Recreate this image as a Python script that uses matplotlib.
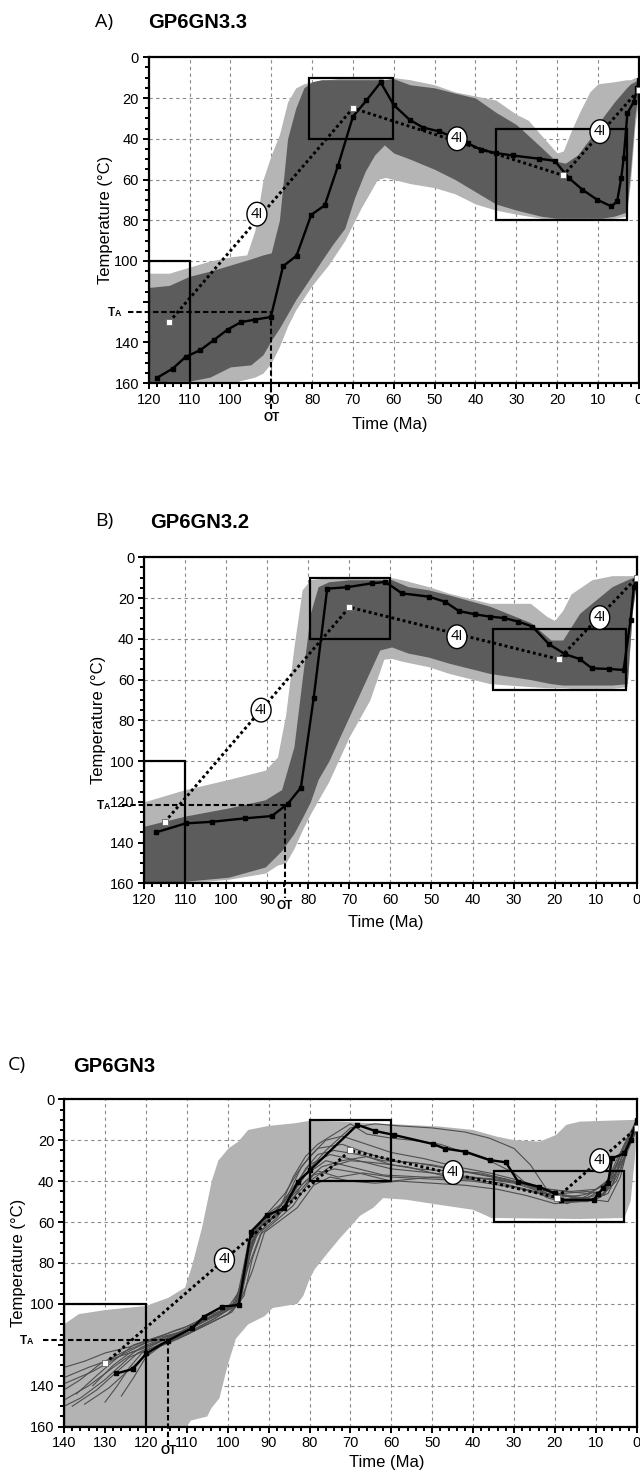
import matplotlib
matplotlib.use('Agg')
import matplotlib.pyplot as plt
from matplotlib.patches import Rectangle
from matplotlib.ticker import MultipleLocator

# ---------------- panel A : GP6GN3.3 ----------------
a_light_t = [120, 115, 110, 105, 100, 96, 94, 92, 90, 88, 86, 84, 82, 80, 76, 72, 68, 64, 62, 60,
             56, 50, 45, 40, 35, 30, 27, 24, 20, 18.5, 16.5, 14.5, 12, 10, 6, 3, 2, 1, 0]
a_light_top = [106, 106, 103, 100, 98, 97, 85, 60, 48, 38, 22, 15, 13, 12, 11, 10, 10, 10, 11, 10,
               11, 13.5, 17, 19, 21, 28, 31, 38, 47, 46, 36, 27, 17, 13, 12, 11, 11, 10, 10]
a_light_bot = [160, 160, 160, 160, 160, 158, 157, 155, 150, 142, 132, 124, 118, 112, 102, 90, 74, 60, 59, 60,
               62, 64, 67, 72, 75, 77, 78, 79, 80, 80, 80, 80, 80, 80, 79, 78, 60, 35, 20]
a_dark_t = [120, 115, 110, 105, 100, 95, 92, 90, 88, 86, 84, 82, 80, 77.7, 75, 72, 69.6, 67, 64.7, 62.3,
            60, 56, 50, 45, 40, 35, 30, 24, 20.3, 18, 15, 12, 9, 6, 3, 2, 1, 0]
a_dark_top = [113, 112, 107.5, 105, 102, 99, 97, 96, 80, 40, 25, 15, 12, 11, 11, 11, 11, 11, 11, 11,
              10.5, 13.5, 15, 17.6, 20, 27, 33, 44, 51, 52, 48, 40, 30, 22, 15, 13, 12, 11]
a_dark_bot = [160, 159, 159, 157, 152, 151, 146, 139, 133, 126, 119, 113, 107, 100, 92, 84, 69, 56, 48, 43,
              47, 50, 55, 60, 66, 72, 75, 78, 79, 79, 79, 79, 79, 78, 76, 55, 30, 15]
a_best_t = [118, 114.1, 110.9, 107.4, 104.1, 100.7, 97.4, 94, 90.1, 87.1, 83.8, 80.2, 76.9, 73.7, 70,
            66.7, 63.2, 60, 56.1, 52.8, 48.8, 41.9, 38.6, 35, 30.9, 24.4, 20.6, 17.1, 13.8, 10.2,
            6.7, 5.3, 4.3, 3.7, 2.8, 1.2, 0.4, 0]
a_best_T = [157.4, 152.8, 147, 143.8, 138.9, 133.7, 130, 128.8, 127.5, 102.6, 97.4, 77.3, 72.7, 53.6, 29.1,
            21.2, 12.3, 23.4, 30.7, 34.5, 36.4, 42.2, 45.4, 47, 48.2, 49.8, 50.8, 59.3, 65, 69.9,
            73.2, 70.7, 59.3, 49.5, 27.5, 21.7, 15.2, 11]
a_mean_t = [115, 70, 18.5, 0]
a_mean_T = [130, 25, 58, 16]
a_label_t = [93.5, 44.5, 9.5]
a_label_T = [77, 40, 36.5]
a_boxes = [(120, 110, 100, 160), (80.8, 60.2, 10, 40), (35, 3, 35, 80)]
a_ta, a_ot = 125, 90

# ---------------- panel B : GP6GN3.2 ----------------
b_light_t = [120, 110, 99.4, 90.5, 87.5, 85.5, 83.5, 81.5, 79.5, 75, 70, 65, 61.6, 59.7, 57.2, 50.7, 45.7,
             35.8, 25.9, 21.9, 20, 18, 16, 10.9, 6, 2.3, 1.1, 0]
b_light_top = [120, 114, 109, 104.5, 98, 77, 44, 16, 11, 10, 10, 10, 10, 10, 11, 14.4, 17.7,
               22.6, 22.6, 29, 31, 26, 18, 11, 9, 9, 9, 9]
b_light_bot = [160, 160, 158, 155, 151, 150, 143, 134, 126, 110, 88, 70, 50, 49.6, 51, 53.7, 57,
               62, 63.5, 64, 64, 64, 64.3, 64.3, 64.3, 63.5, 27, 11]
b_dark_t = [120, 110, 99.4, 90.5, 86.5, 83.5, 81.5, 79.5, 77.6, 75, 70, 65, 62.6, 59.7, 55.7, 50.7, 45.7,
            35.8, 25.9, 20.9, 18, 13.9, 10, 6, 2.3, 1.1, 0]
b_dark_top = [132, 127, 123, 119, 114, 93, 60, 27.5, 14.4, 12, 11, 11, 11, 11, 14.4, 16, 18.5,
              24, 32, 40.6, 40.6, 27.5, 21, 14.4, 11, 10, 9.5]
b_dark_bot = [160, 159, 157, 152, 144, 135.5, 128, 120, 109, 100, 78, 56, 45.5, 44, 47, 49, 52,
              57, 60, 62, 62.7, 62.7, 62.7, 62.7, 62, 27.5, 11]
b_best_t = [117.1, 109.9, 103.4, 95.4, 88.9, 85, 81.8, 78.7, 75.4, 70.6, 64.6, 61.2, 57.2, 50.7, 46.7,
            43.3, 39.3, 35.8, 32.3, 28.8, 25.4, 21.4, 17.4, 13.9, 10.9, 6.8, 3.2, 1.5, 0.7, 0]
b_best_T = [135, 130.6, 129.8, 128.1, 127, 121, 113, 69.2, 15.4, 14.7, 12.8, 12.1, 17.7, 19.3, 21.8,
            26.4, 28, 29.1, 29.8, 31.6, 34, 42.6, 47.6, 49.9, 54.5, 54.8, 55.3, 30.8, 14.4, 9.5]
b_mean_t = [115, 70, 19, 0]
b_mean_T = [130, 24.5, 50, 10]
b_label_t = [91.5, 43.8, 9]
b_label_T = [75, 39, 29.6]
b_boxes = [(120, 110, 100, 160), (79.5, 60, 10, 40), (35, 2.5, 35, 65)]
b_ta, b_ot = 121.5, 85.7

# ---------------- panel C : GP6GN3 ----------------
c_light_top_t = [140, 136.4, 130, 120, 114.5, 110.4, 108.8, 106.3, 103.9, 102.3, 99.8, 97.4, 95, 90,
                 83.5, 80, 72.6, 64.4, 56.3, 48.2, 40, 34.3, 30.2, 23.7, 19.7, 17.2, 13.9, 0]
c_light_top_T = [110, 105, 103, 101, 97, 92, 82, 63, 40, 30, 24, 20.7, 15, 13,
                 11.7, 10.5, 10.9, 11.7, 12.5, 13.3, 15, 18.2, 19.9, 20.7, 17.4, 12.5, 10.9, 10]
c_light_bot_t = [140, 110, 109, 105, 104, 102, 100, 98, 95, 91, 89, 83, 81.5, 80, 78.7, 75.5, 72.6, 69,
                 67.7, 64.4, 62, 56.3, 48.2, 40, 35.5, 14, 3, 1.5, 0.5, 0]
c_light_bot_T = [160, 160, 157, 155, 151, 146, 130, 117, 110, 106, 102, 100, 96, 88, 83, 75, 68, 60,
                 57, 53, 48.3, 49.1, 51.6, 54, 58, 58.5, 58, 50, 30, 15]
c_best_t = [127.2, 123.2, 119.9, 114.7, 108.8, 105.8, 101.3, 97.3, 94.3, 90.3, 86.3, 82.8, 79.8, 68.3,
            63.9, 59.4, 49.9, 46.9, 41.9, 35.9, 32, 29, 24, 20, 18.4, 10.5, 9.5, 8.2, 7, 6, 3, 1.5, 0]
c_best_T = [134, 131.8, 124.2, 118, 112, 106.2, 101.3, 100.5, 64.7, 56.5, 53.3, 40.2, 34.5, 12.5,
            15.5, 17.4, 21.8, 24.1, 25.6, 29.7, 30.8, 40.2, 42.7, 46, 49.2, 49.2, 46.4, 43.5, 40.7, 28.8,
            26.4, 19.9, 10.1]
c_mean_t = [130, 70, 19.5, 0]
c_mean_T = [129, 25, 48, 14]
c_label_t = [100.8, 44.9, 9]
c_label_T = [78.5, 35.8, 30]
c_boxes = [(140, 120, 100, 160), (80, 60, 10, 40), (35, 3, 35, 60)]
c_ta, c_ot = 117.6, 114.5

# individual good paths of panel C
c_line1_t = [140, 133, 126, 120, 113, 107, 101, 97.5, 95, 91, 86, 82, 78, 72, 65, 60, 50, 40, 32, 24, 19, 12, 8, 5, 2, 0]
c_line1_T = [139, 133, 125, 119, 115, 109, 103, 99, 70, 57, 50, 33, 24, 22, 27, 30, 32, 36, 39, 44, 49, 48, 44, 30, 18, 11]
c_line2_t = [140, 134, 128, 121, 115, 108, 102, 97, 94.5, 92, 88, 84, 80, 75, 68, 60, 50, 40, 30, 22, 17, 10, 6, 3, 0]
c_line2_T = [147, 140, 131, 121, 116, 111, 104, 100, 75, 60, 54, 43, 32, 27, 30, 34, 36, 38, 41, 46, 47, 49, 42, 25, 13]
c_line3_t = [138, 132, 127, 122, 116, 110, 104, 98.5, 96, 93, 89, 85, 81, 76, 70, 62, 52, 42, 33, 25, 18, 12, 7, 4, 1, 0]
c_line3_T = [150, 142, 133, 124, 118, 113, 106, 101, 85, 64, 56, 47, 37, 30, 33, 37, 38, 39, 41, 45, 50, 50, 46, 34, 18, 12]
c_line4_t = [140, 135, 130, 124, 118, 112, 106, 100, 96.5, 94, 90, 86, 83, 80, 76, 72, 66, 60, 52, 44, 36, 28, 22, 16, 10, 6, 3, 0]
c_line4_T = [131, 128, 124, 121, 117, 114, 108, 102, 92, 66, 55, 46, 36, 28, 20, 18, 22, 26, 29, 33, 36, 40, 44, 45, 44, 38, 22, 10]
c_line5_t = [140, 136, 131, 125, 119, 113, 107, 101, 97, 95.5, 93, 89, 85, 82, 78, 73, 67, 60, 50, 40, 30, 24, 18, 12, 8, 5, 2, 0]
c_line5_T = [142, 137, 129, 123, 118, 113, 109, 104, 97, 80, 62, 58, 52, 42, 35, 38, 36, 38, 39, 40, 43, 46, 46, 45, 47, 35, 20, 14]
c_line6_t = [137, 132, 128, 123, 117, 111, 105, 99, 96, 93.5, 90, 87, 84, 81, 78, 74, 70, 66, 60, 55, 48, 42, 36, 30, 26, 22, 17, 12, 7, 4, 1, 0]
c_line6_T = [144, 135, 128, 120, 116, 112, 106, 101, 88, 68, 60, 52, 38, 28, 22, 17, 12, 17, 19, 20, 22, 26, 30, 36, 43, 48, 51, 47, 40, 28, 15, 11]
c_line7_t = [133, 128, 124, 119, 114, 108, 103, 98, 95.5, 92.5, 88, 85, 81, 77, 72, 66, 60, 54, 46, 38, 30, 24, 19, 13, 9, 6, 3, 0]
c_line7_T = [140, 130, 124, 120, 116, 112, 107, 100, 76, 63, 57, 49, 40, 33, 30, 28, 32, 34, 35, 36, 40, 44, 46, 49, 48, 40, 28, 15]
c_line8_t = [126, 123, 120, 116, 110, 104, 99, 96.5, 94.5, 91, 87.5, 84, 81, 78, 74, 68, 62, 54, 46, 38, 30, 24, 18, 12, 8, 4, 1, 0]
c_line8_T = [145, 136, 126, 120, 115, 108, 102, 94, 72, 59, 53, 45, 34, 27, 25, 27, 30, 31, 34, 37, 40, 43, 45, 46, 42, 30, 17, 12]
c_line9_t = [140, 136, 130, 124, 118, 112, 106, 100, 97.5, 95, 92, 88, 84, 80, 75, 70, 64, 56, 46, 36, 28, 22, 16, 11, 7, 4, 2, 0]
c_line9_T = [150, 146, 137, 126, 121, 116, 111, 105, 100, 82, 66, 59, 52, 40, 33, 30, 31, 33, 38, 39, 41, 45, 48, 49, 50, 38, 22, 13]
c_line10_t = [130, 127, 124, 121, 116, 110, 104, 99, 96, 94, 91.5, 88, 85, 82, 79, 74, 68, 60, 50, 42, 34, 26, 20, 14, 9, 5, 2, 0]
c_line10_T = [148, 140, 131, 124, 119, 115, 109, 104, 96, 78, 64, 58, 50, 44, 37, 34, 36, 40, 38, 38, 39, 42, 48, 47, 45, 36, 24, 14]
c_line11_t = [140, 134, 127, 121, 115, 109, 103, 98, 95, 92, 88, 84, 80, 76, 70, 64, 58, 50, 42, 36, 30, 26, 22, 18, 12, 8, 5, 2, 0]
c_line11_T = [136, 131, 126, 122, 117, 112, 106, 101, 78, 62, 56, 46, 34, 25, 14, 12, 13, 14, 16, 19, 24, 32, 44, 50, 48, 46, 32, 18, 11]
c_line12_t = [135, 129, 124, 118, 112, 106, 100, 97, 94, 91, 87, 83, 79, 75, 70, 64, 58, 50, 42, 34, 27, 20, 14, 9, 5, 2, 0]
c_line12_T = [149, 141, 132, 122, 117, 111, 105, 99, 84, 65, 59, 53, 42, 38, 40, 41, 40, 41, 42, 44, 47, 51, 50, 48, 40, 24, 15]

LIGHT = '#b5b5b5'
DARK = '#5c5c5c'
W, H = 640, 1473

plt.rcParams['font.family'] = ['Liberation Sans', 'DejaVu Sans']
fig = plt.figure(figsize=(W / 100, H / 100), dpi=100)


def axes_px(left, top, right, bottom):
    return fig.add_axes([left / W, 1 - bottom / H, (right - left) / W, (bottom - top) / H])


def setup(ax, tmax, show120):
    ax.set_xlim(tmax, 0)
    ax.set_ylim(160, 0)
    ax.xaxis.set_major_locator(MultipleLocator(10))
    ax.xaxis.set_minor_locator(MultipleLocator(2))
    ax.set_yticks(range(0, 161, 20))
    ax.set_yticklabels([str(v) if (v != 120 or show120) else '' for v in range(0, 161, 20)])
    ax.yaxis.set_minor_locator(MultipleLocator(5))
    ax.grid(True, which='major', color='#8a8a8a', linestyle=(0, (3, 3)), linewidth=0.8)
    ax.set_axisbelow(True)
    ax.tick_params(which='both', direction='out', width=1.4, labelsize=10.5, pad=2.5)
    ax.tick_params(which='major', length=4.5)
    ax.tick_params(which='minor', length=3)
    for s in ax.spines.values():
        s.set_linewidth(1.6)


def draw_common(ax, boxes, best_t, best_T, mean_t, mean_T, lab_t, lab_T):
    for t0, t1, T0, T1 in boxes:
        ax.add_patch(Rectangle((t1, T0), t0 - t1, T1 - T0, fill=False, ec='black', lw=1.6, zorder=4))
    ax.plot(best_t, best_T, color='black', lw=1.7, marker='s', ms=2.4, zorder=5)
    ax.plot(mean_t, mean_T, color='black', lw=2.1, ls=(0, (1, 1)), zorder=6)
    ax.plot(mean_t, mean_T, ls='none', marker='s', ms=3.8, mfc='white', mec='#666666', mew=0.6, zorder=7)
    for t, T in zip(lab_t, lab_T):
        ax.text(t, T, '4I', ha='center', va='center', fontsize=10.5, family=['Open Sans', 'DejaVu Sans'],
                zorder=8, bbox=dict(boxstyle='ellipse,pad=0.06', fc='white', ec='black', lw=1.0))


def draw_ta_ot(ax, ta, ot, t_start, t_lab, ot_end, ot_lab):
    ax.plot([t_start, ot], [ta, ta], color='black', lw=1.5, ls=(0, (2.6, 1.4)), clip_on=False, zorder=6)
    ax.plot([ot, ot], [ta, ot_end], color='black', lw=1.5, ls=(0, (2.6, 1.4)), clip_on=False, zorder=6)
    ax.text(t_lab, ta + 1.8, 'T', fontsize=8.5, fontweight='bold', ha='left', va='baseline', clip_on=False)
    ax.text(t_lab - 1.6, ta + 1.8, 'A', fontsize=6.3, fontweight='bold', ha='left', va='baseline',
            clip_on=False)
    ax.text(ot, ot_lab, 'OT', fontsize=8.5, fontweight='bold', ha='center', va='center', clip_on=False)


def labels(ax, xlab, ylab):
    ax.text(xlab[0], xlab[1], 'Time (Ma)', transform=ax.transAxes, ha='center', va='center', fontsize=12)
    ax.text(ylab, 0.5, 'Temperature (°C)', transform=ax.transAxes, rotation=90,
            ha='center', va='center', fontsize=12)


def heading(letter, lx, ly, title, tx, ty):
    fig.text(lx / W, 1 - ly / H, letter, fontsize=14, family=['Open Sans', 'DejaVu Sans'], va='center')
    fig.text(tx / W, 1 - ty / H, title, fontsize=14.5, fontweight='bold', va='center')


# panel A
axA = axes_px(148.7, 57.3, 638.8, 383.2)
setup(axA, 120, False)
axA.fill_between(a_light_t, a_light_top, a_light_bot, color=LIGHT, lw=0, zorder=1)
axA.fill_between(a_dark_t, a_dark_top, a_dark_bot, color=DARK, lw=0, zorder=2)
draw_common(axA, a_boxes, a_best_t, a_best_T, a_mean_t, a_mean_T, a_label_t, a_label_T)
draw_ta_ot(axA, a_ta, a_ot, 125, 130, 173, 177)
labels(axA, (0.492, -0.126), -0.089)
heading('A)', 95, 22, 'GP6GN3.3', 148, 23)

# panel B
axB = axes_px(144.1, 557.3, 636.7, 883.3)
setup(axB, 120, True)
axB.fill_between(b_light_t, b_light_top, b_light_bot, color=LIGHT, lw=0, zorder=1)
axB.fill_between(b_dark_t, b_dark_top, b_dark_bot, color=DARK, lw=0, zorder=2)
draw_common(axB, b_boxes, b_best_t, b_best_T, b_mean_t, b_mean_T, b_label_t, b_label_T)
draw_ta_ot(axB, b_ta, b_ot, 125.4, 131.5, 167, 171)
labels(axB, (0.491, -0.12), -0.093)
heading('B)', 95, 521, 'GP6GN3.2', 150, 523)

# panel C
axC = axes_px(64.1, 1099.3, 636.7, 1426.7)
setup(axC, 140, False)
axC.fill(c_light_top_t + c_light_bot_t[::-1], c_light_top_T + c_light_bot_T[::-1],
         color='#b3b3b3', lw=0, zorder=1)
c_lines = [(c_line1_t, c_line1_T), (c_line2_t, c_line2_T), (c_line3_t, c_line3_T),
           (c_line4_t, c_line4_T), (c_line5_t, c_line5_T), (c_line6_t, c_line6_T),
           (c_line7_t, c_line7_T), (c_line8_t, c_line8_T), (c_line9_t, c_line9_T),
           (c_line10_t, c_line10_T), (c_line11_t, c_line11_T), (c_line12_t, c_line12_T)]
for lt, lT in c_lines:
    axC.plot(lt, lT, color='#4e4e4e', lw=0.8, zorder=3)
draw_common(axC, c_boxes, c_best_t, c_best_T, c_mean_t, c_mean_T, c_label_t, c_label_T)
draw_ta_ot(axC, c_ta, c_ot, 145.2, 150.7, 169, 171.8)
labels(axC, (0.563, -0.11), -0.080)
heading('C)', 8, 1065, 'GP6GN3', 73, 1067)

fig.savefig('out.png', dpi=100)
